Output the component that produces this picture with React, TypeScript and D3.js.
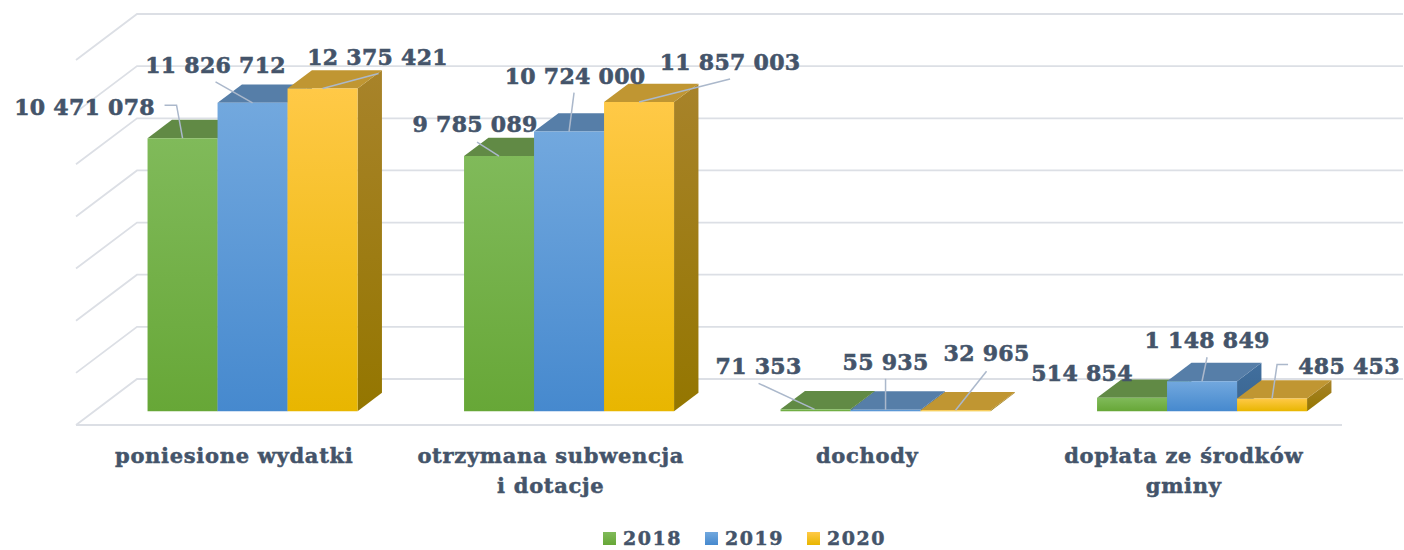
import * as d3 from "d3";

const categories = [
  "poniesione wydatki",
  "otrzymana subwencja\ni dotacje",
  "dochody",
  "dopłata ze środków\ngminy",
];
const years = ["2018", "2019", "2020"];
const values2018 = [10471078, 9785089, 71353, 514854];
const values2019 = [11826712, 10724000, 55935, 1148849];
const values2020 = [12375421, 11857003, 32965, 485453];
const gridTicks = [0, 2e6, 4e6, 6e6, 8e6, 10e6, 12e6, 14e6];

// label placement relative to the top-front centre of each bar (by category, then year)
const labelOffsets: [number, number][][] = [
  [[-98, -23], [-37, -30], [55, -24]],
  [[-24, -24], [6, -48], [91, -32]],
  [[-57, -35], [0, -40], [31, -49]],
  [[-50, -17], [5, -33], [77, -25]],
];
const leaders: [number, number][][][] = [
  [[[-18, -33], [-6, -33], [0, 0]], [[-37, -21], [0, 0]], [[56, -15], [0, 0]]],
  [[[-22, -14], [0, 0]], [[5, -39], [0, 0]], [[91, -23], [0, 0]]],
  [[[-57, -26], [-1, 0]], [[0, -31], [0, 0]], [[31, -39], [0, 0]]],
  [[], [[5, -24], [0, 0]], [[16, -34], [5, -34], [0, 0]]],
];

const colors = [
  { top: "#618a45", front: ["#80ba5a", "#67a737"], side: ["#527a35", "#4a6e2e"] },
  { top: "#567ea8", front: ["#72a8de", "#4689ce"], side: ["#416f9e", "#3a6590"] },
  { top: "#c09632", front: ["#ffc947", "#e8b600"], side: ["#a8832a", "#947600"] },
];

const W = 1404;
const H = 550;
const floorLeft = 76;
const floorRight = 1342;
const floorY = 425;
const depthDx = 61;
const depthDy = -46;
const barD0 = 0.3;
const barD1 = 0.7;
const textColor = "#44546a";
const font = "'DejaVu Serif', serif";

const x0 = d3
  .scaleBand()
  .domain(categories)
  .range([floorLeft, floorRight])
  .paddingInner(0.3365)
  .paddingOuter(0.16825);
const x1 = d3.scaleBand().domain(years).range([0, x0.bandwidth()]);
const h = d3.scaleLinear().domain([0, 14e6]).range([0, 365]);

const proj = (x: number, v: number, d: number): [number, number] => [
  x + depthDx * d,
  floorY + depthDy * d - h(v),
];

const poly = (pts: [number, number][]) =>
  "M" + pts.map((p) => p.map((n) => n.toFixed(2)).join(",")).join("L") + "Z";

const fmt = (v: number) => d3.format(",")(v).replace(/,/g, " ");

const App = () => {
  const series = [values2018, values2019, values2020];

  return (
    <svg
      width={W}
      height={H}
      style={{ position: "absolute", left: 0, top: 0, background: "#fff" }}
    >
      <defs>
        {colors.map((c, i) => (
          <g key={i}>
            <linearGradient id={`front${i}`} x1="0" y1="0" x2="0" y2="1">
              <stop offset="0%" stopColor={c.front[0]} />
              <stop offset="100%" stopColor={c.front[1]} />
            </linearGradient>
            <linearGradient id={`side${i}`} x1="0" y1="0" x2="0" y2="1">
              <stop offset="0%" stopColor={c.side[0]} />
              <stop offset="100%" stopColor={c.side[1]} />
            </linearGradient>
          </g>
        ))}
      </defs>

      {/* walls */}
      <g stroke="#dcdfe5" strokeWidth={1.8} fill="none">
        {gridTicks.map((t) => {
          const a = proj(floorLeft, t, 0);
          const b = proj(floorLeft, t, 1);
          const c = proj(floorRight, t, 1);
          return <path key={t} d={`M${a[0]},${a[1]}L${b[0]},${b[1]}L${c[0]},${c[1]}`} />;
        })}
        {(() => {
          const a = proj(floorLeft, 0, 0);
          const b = proj(floorRight, 0, 0);
          return <line x1={a[0]} y1={a[1]} x2={b[0]} y2={b[1]} />;
        })()}
      </g>

      {/* bars */}
      {categories.map((cat, ci) => (
        <g key={cat}>
          {years.map((yr, si) => {
            const v = series[si][ci];
            const xl = x0(cat)! + x1(yr)!;
            const xr = xl + x1.bandwidth();
            const front = [proj(xl, 0, barD0), proj(xr, 0, barD0), proj(xr, v, barD0), proj(xl, v, barD0)];
            const top = [proj(xl, v, barD0), proj(xr, v, barD0), proj(xr, v, barD1), proj(xl, v, barD1)];
            const side = [proj(xr, 0, barD0), proj(xr, 0, barD1), proj(xr, v, barD1), proj(xr, v, barD0)];
            return (
              <g key={yr}>
                <path d={poly(side)} fill={`url(#side${si})`} />
                <path d={poly(top)} fill={colors[si].top} />
                <path d={poly(front)} fill={`url(#front${si})`} />
              </g>
            );
          })}
        </g>
      ))}

      {/* data labels */}
      {categories.map((cat, ci) => (
        <g key={cat}>
          {years.map((yr, si) => {
            const v = series[si][ci];
            const [ax, ay] = proj(x0(cat)! + x1(yr)! + x1.bandwidth() / 2, v, barD0);
            const [dx, dy] = labelOffsets[ci][si];
            const pts = leaders[ci][si];
            return (
              <g key={yr}>
                {pts.length > 0 && (
                  <polyline
                    points={pts.map(([px, py]) => `${ax + px},${ay + py}`).join(" ")}
                    fill="none"
                    stroke="#abb8cb"
                    strokeWidth={1.5}
                  />
                )}
                <text
                  x={ax + dx}
                  y={ay + dy}
                  textAnchor="middle"
                  fontFamily={font}
                  fontWeight="bold"
                  fontSize={22}
                  letterSpacing={0.3}
                  fill={textColor}
                  stroke={textColor}
                  strokeWidth={0.6}
                >
                  {fmt(v)}
                </text>
              </g>
            );
          })}
        </g>
      ))}

      {/* category labels */}
      {categories.map((cat) => (
        <text
          key={cat}
          x={x0(cat)! + x0.bandwidth() / 2}
          y={floorY + 38}
          textAnchor="middle"
          fontFamily={font}
          fontWeight="bold"
          fontSize={21}
          letterSpacing={0.7}
          fill={textColor}
          stroke={textColor}
          strokeWidth={0.5}
        >
          {cat.split("\n").map((line, li) => (
            <tspan key={li} x={x0(cat)! + x0.bandwidth() / 2} dy={li === 0 ? 0 : 30}>
              {line}
            </tspan>
          ))}
        </text>
      ))}

      {/* legend */}
      {years.map((yr, i) => (
        <g key={yr} transform={`translate(${603 + i * 102},532)`}>
          <rect width={13} height={13} fill={`url(#front${i})`} />
          <text
            x={20}
            y={13}
            fontFamily={font}
            fontWeight="bold"
            fontSize={19}
            letterSpacing={1.5}
            fill={textColor}
            stroke={textColor}
            strokeWidth={0.5}
          >
            {yr}
          </text>
        </g>
      ))}
    </svg>
  );
};

export default App;
